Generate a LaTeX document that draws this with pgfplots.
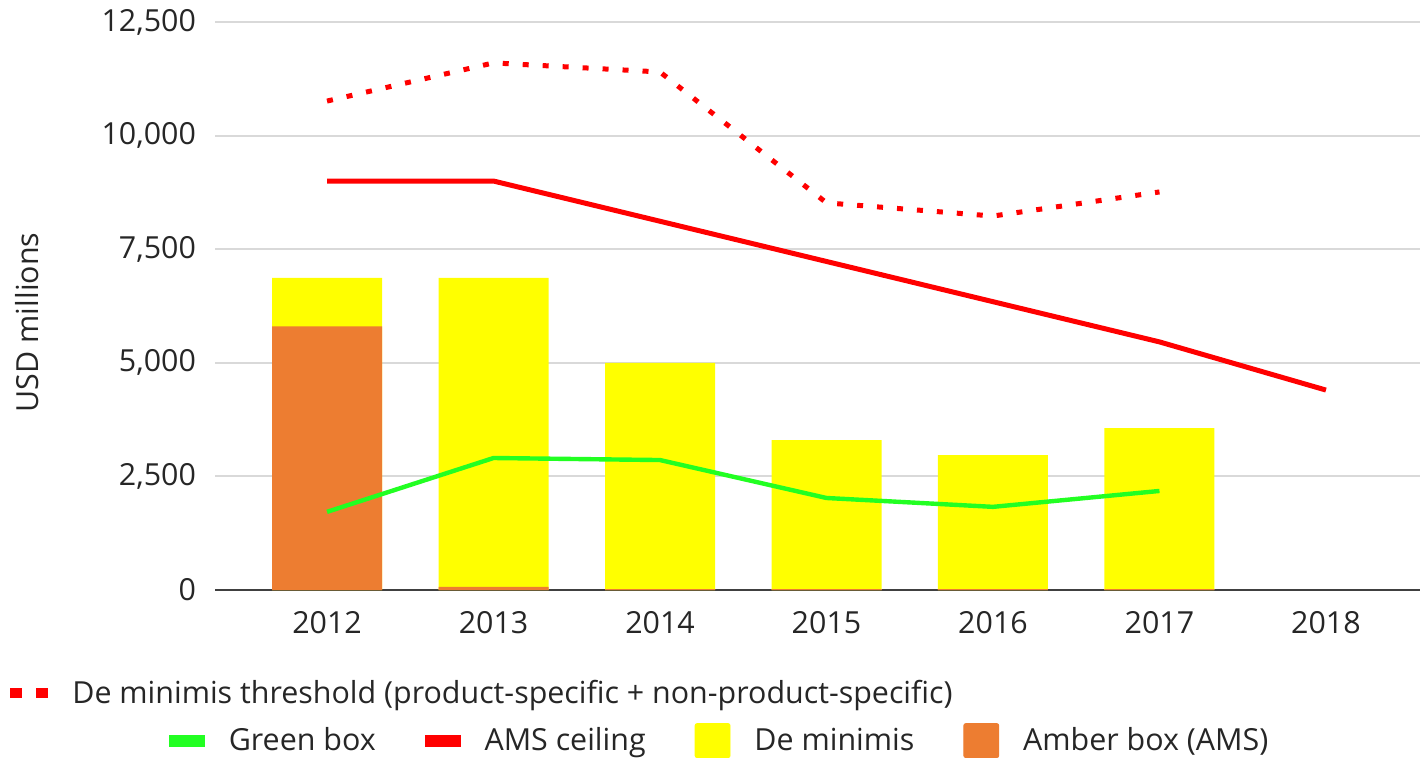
\documentclass[border=0pt]{standalone}
\usepackage{graphicx}
\usepackage{pgfplots}
\pgfplotsset{compat=1.18}
\usepackage{fontspec}
\setmainfont{Open Sans}
\definecolor{amber}{HTML}{ED7D31}
\definecolor{demin}{HTML}{FFFF00}
\definecolor{gbox}{HTML}{22FF22}
\definecolor{ams}{HTML}{FF0000}
\definecolor{txt}{HTML}{262626}
\definecolor{gridc}{HTML}{D9D9D9}
\definecolor{axc}{HTML}{404040}

\pgfplotstableread{
x total amber green ceiling thresh
0 6870 5800 1720 9000 10760
1 6870 70   2905 9000 11600
2 5000 20   2860 8115 11400
3 3300 20   2025 7230 8520
4 2970 20   1830 6345 8230
5 3565 20   2180 5460 8760
}\datatab

\newcommand{\fs}{\fontsize{15.2}{18}\selectfont}

\begin{document}
\begin{tikzpicture}
\useasboundingbox (0,0) rectangle (711pt,378.5pt);
\begin{axis}[
  at={(107.5pt,83.5pt)}, anchor=south west,
  scale only axis, width=602.5pt, height=284pt,
  xmin=-0.673, xmax=6.565, ymin=0, ymax=12500,
  xtick={0,1,2,3,4,5,6},
  xticklabels={2012,2013,2014,2015,2016,2017,2018},
  ytick={0,2500,5000,7500,10000,12500},
  scaled y ticks=false,
  /pgf/number format/assume math mode=true,
  /pgf/number format/1000 sep={,},
  ymajorgrids, grid style={gridc, line width=1pt},
  axis x line*=bottom, axis y line*=left,
  x axis line style={axc, line width=1pt, -},
  y axis line style={draw=none},
  xtick style={draw=none}, ytick style={draw=none},
  tick label style={font=\fs, text=txt},
  yticklabel style={xshift=-6pt},
  xticklabel style={yshift=-7pt},
  ylabel={USD millions},
  every axis y label/.style={at={(axis description cs:-0.156,0.471)}, rotate=90, anchor=center, font=\fs, text=txt},
  legend style={at={(axis description cs:-0.0385,-0.2651)}, anchor=west, draw=none, fill=none,
    font=\fs, text=txt, inner sep=0pt, nodes={inner sep=0pt},
    /tikz/every odd column/.append style={column sep=12pt},
    /tikz/every even column/.append style={column sep=24.5pt}},
  legend columns=4, legend cell align=left,
  clip=false,
]
\addlegendimage{legend image code/.code={\fill[gbox] (0pt,-2.75pt) rectangle (17.5pt,2.75pt);}}
\addlegendentry{Green box}
\addlegendimage{legend image code/.code={\fill[ams] (0pt,-2.75pt) rectangle (17.5pt,2.75pt);}}
\addlegendentry{AMS ceiling}
\addlegendimage{legend image code/.code={\fill[demin, rounded corners=1pt] (0pt,-8.5pt) rectangle (17.5pt,8.5pt);}}
\addlegendentry{De minimis}
\addlegendimage{legend image code/.code={\fill[amber, rounded corners=1pt] (0pt,-8.5pt) rectangle (17.5pt,8.5pt);}}
\addlegendentry{Amber box (AMS)}

\addplot[forget plot, ybar, bar width=55pt, bar shift=0pt, fill=demin, draw=none] table[x=x, y=total] {\datatab};
\addplot[forget plot, ybar, bar width=55pt, bar shift=0pt, fill=amber, draw=none] table[x=x, y=amber] {\datatab};
\addplot[forget plot, gbox, line width=2.2pt, no marks] table[x=x, y=green] {\datatab};
\addplot[forget plot, ams, line width=2.5pt, no marks] coordinates {(0,9000) (1,9000) (2,8115) (3,7230) (4,6345) (5,5460) (6,4400)};
\addplot[forget plot, ams, line width=2.5pt, no marks, line cap=butt, dash pattern=on 3pt off 7pt] table[x=x, y=thresh] {\datatab};
\end{axis}

\begin{axis}[
  at={(107.5pt,83.5pt)}, anchor=south west,
  scale only axis, width=602.5pt, height=284pt,
  xmin=0, xmax=1, ymin=0, ymax=1, hide axis,
  legend style={at={(axis description cs:-0.1743,-0.1813)}, anchor=west, draw=none, fill=none,
    font=\fs, text=txt, inner sep=0pt, nodes={inner sep=0pt},
    /tikz/every odd column/.append style={column sep=9.5pt}},
  legend cell align=left,
]
\addlegendimage{legend image code/.code={\draw[ams, line width=5pt, dash pattern=on 6pt off 7pt] (0pt,0pt) -- (19pt,0pt);}}
\addlegendentry{De minimis threshold (product-specific + non-product-specific)}
\end{axis}
\end{tikzpicture}
\end{document}
